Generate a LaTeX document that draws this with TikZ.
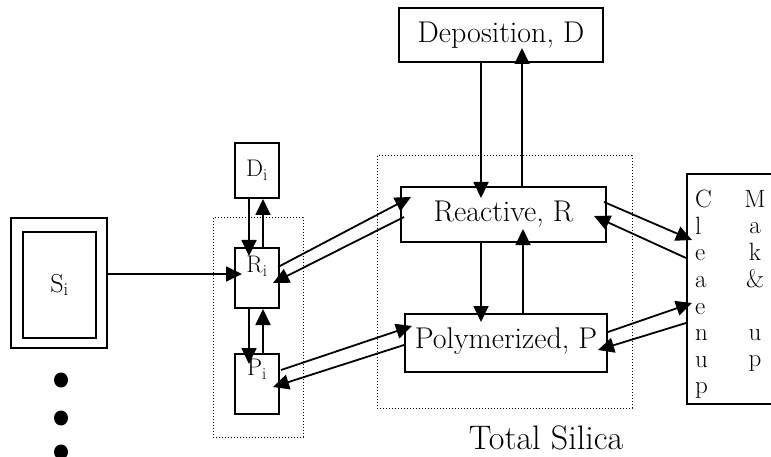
\documentclass[tikz,border=0pt]{standalone}
\usepackage{fontspec}
\usetikzlibrary{arrows.meta, positioning}

\begin{document}
\begin{tikzpicture}[
    x=1pt, y=-1pt,
    box/.style={draw, line width=2pt, inner sep=0pt, align=center},
    big/.style={box, font=\fontsize{30}{36}\selectfont},
    small/.style={box, minimum width=44pt, minimum height=60pt,
                  font=\fontsize{24}{28}\selectfont},
    flow/.style={line width=1.8pt, -{Triangle[length=16pt, width=15pt]}},
    zone/.style={line width=1pt, dash pattern=on 1.2pt off 1.8pt}
]
    \useasboundingbox (0,0) rectangle (771,457);
    \clip (0,0) rectangle (771,457);

    % Source
    \node[box, minimum width=96pt, minimum height=130pt] (souter) at (59,283) {};
    \node[box, minimum width=73pt, minimum height=106pt,
          font=\fontsize{26}{30}\selectfont] (si) at (59.5,285) {S\textsubscript{i}};
    \foreach \y in {380,418,452}
        \fill (61,\y) ellipse (7 and 7.5);

    % Local pools
    \node[small, minimum height=55pt] (di) at (257,170.5) {D\textsubscript{i}};
    \node[small, text depth=27pt] (ri) at (257,278) {R\textsubscript{i}};
    \node[small, text depth=33pt, below=44pt of ri] (pi) {P\textsubscript{i}};
    \draw[zone] (213,218) rectangle (303,437);

    % Total silica
    \node[big, minimum width=204pt, minimum height=54pt] (dep) at (501,35) {Deposition, D};
    \node[big, minimum width=205pt, minimum height=55pt] (rea) at (503.5,214.5) {Reactive, R};
    \node[big, minimum width=202pt, minimum height=58pt, text depth=9pt] (pol) at (506,343) {Polymerized, P};
    \draw[zone] (377,156) rectangle (632,408);
    \node[font=\fontsize{34}{40}\selectfont] (tot) at (546,438) {Total Silica};

    % Clean up / make up
    \node[box, minimum width=113pt, minimum height=230pt] (cm) at (743.5,289) {};
    \node[font=\fontsize{25}{26.6}\selectfont, align=left, anchor=north west,
          inner sep=0pt] (clean) at (695,190) {C\\l\\e\\a\\e\\n\\u\\p};
    \node[font=\fontsize{25}{26.6}\selectfont, align=center, anchor=north,
          inner sep=0pt] (make) at (755,190) {M\\a\\k\\\&\\[26.6pt]u\\p};

    % Exchanges
    \draw[flow] ([yshift=9pt]souter.east) -- ([xshift=8pt,yshift=4pt]ri.west);
    \draw[flow] ([xshift=-8pt]di.south) -- ([xshift=-8pt,yshift=-9pt]ri.north);
    \draw[flow] ([xshift=6pt]ri.north) -- ([xshift=6pt]di.south);
    \draw[flow] ([xshift=-8pt]ri.south) -- ([xshift=-8pt,yshift=-11pt]pi.north);
    \draw[flow] ([xshift=6pt]pi.north) -- ([xshift=6pt]ri.south);

    \draw[flow] ([xshift=-2pt,yshift=11pt]ri.east) -- ([xshift=11pt,yshift=17.5pt]rea.west);
    \draw[flow] ([xshift=4pt,yshift=-2.5pt]rea.west) -- ([xshift=-7pt,yshift=-5pt]ri.east);
    \draw[flow] ([xshift=1pt,yshift=14pt]pi.east) -- ([xshift=8pt,yshift=17pt]pol.west);
    \draw[flow] ([yshift=-2pt]pol.west) -- ([xshift=-7pt,yshift=-3pt]pi.east);

    \draw[flow] ([xshift=-20pt]dep.south) -- ([xshift=-22.5pt,yshift=-12pt]rea.north);
    \draw[flow] ([xshift=18.5pt]rea.north) -- ([xshift=21pt,yshift=15pt]dep.south);
    \draw[flow] ([xshift=-22.5pt]rea.south) -- ([xshift=-25pt,yshift=-9pt]pol.north);
    \draw[flow] ([xshift=17pt]pol.north) -- ([xshift=19.5pt,yshift=14pt]rea.south);

    \draw[flow] ([xshift=-3pt,yshift=12.5pt]rea.east) -- ([xshift=6pt,yshift=49pt]cm.west);
    \draw[flow] ([yshift=31pt]cm.west) -- ([xshift=-13pt,yshift=-1.5pt]rea.east);
    \draw[flow] ([yshift=11pt]pol.east) -- ([xshift=6pt,yshift=-14pt]cm.west);
    \draw[flow] ([yshift=-34pt]cm.west) -- ([xshift=-10pt,yshift=-7pt]pol.east);
\end{tikzpicture}
\end{document}
